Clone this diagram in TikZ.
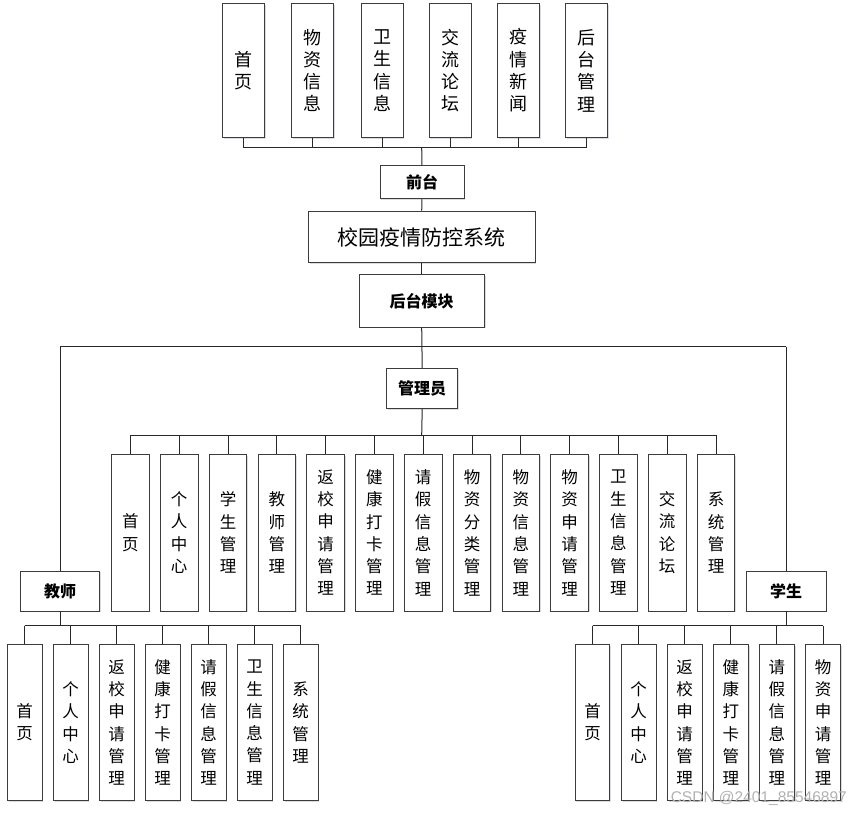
\documentclass[tikz,border=0pt]{standalone}
\usepackage{fontspec}
\setmainfont{Liberation Sans}
\newfontfamily\cjk{Noto Sans CJK SC}
\newfontfamily\wmfont{Liberation Sans}
\usetikzlibrary{shadows}
\definecolor{boxline}{RGB}{60,60,60}
\definecolor{conn}{RGB}{40,40,40}
\tikzset{
  box/.style={draw=boxline, line width=0.9pt, fill=white, inner sep=0pt, align=center,
    drop shadow={shadow xshift=1.3pt, shadow yshift=-1.3pt, fill=blue!15!black!20, opacity=0.7}},
  topbox/.style={box, minimum width=42pt, minimum height=134.4pt, font=\cjk\fontsize{18}{22.3}\selectfont},
  admbox/.style={box, minimum width=37.5pt, minimum height=156.7pt, font=\cjk\fontsize{16.5}{22.3}\selectfont},
  subbox/.style={box, minimum width=34.8pt, minimum height=156.4pt, font=\cjk\fontsize{16.5}{22.3}\selectfont},
  rolebox/.style={box, font=\cjk\bfseries\fontsize{16}{18}\selectfont},
  titlebox/.style={box, font=\cjk\fontsize{21}{24}\selectfont},
  wire/.style={draw=conn, line width=1pt},
}
\begin{document}
\begin{tikzpicture}[x=1pt,y=-1pt]
\useasboundingbox (0,0) rectangle (851,814);
% fixed bus coordinates
\coordinate (topbus) at (421.7,147.7);
\coordinate (mainbus) at (421.7,346.7);
\coordinate (admbus) at (421.7,435);
\coordinate (tbus) at (60,625.7);
\coordinate (sbus) at (786,625.7);

% top (front-end) pages
\foreach \i/\x/\t in {1/243.5/{首\\页},2/312.5/{物\\资\\信\\息},3/382/{卫\\生\\信\\息},4/450/{交\\流\\论\\坛},5/518.3/{疫\\情\\新\\闻},6/586.2/{后\\台\\管\\理}}
  \node[topbox] (t\i) at (\x,70.5) {\t};

\node[rolebox, minimum width=84pt, minimum height=33pt] (qt) at (422,182.3) {前台};
\node[titlebox, minimum width=226.7pt, minimum height=51.7pt] (sys) at (421.7,237) {校园疫情防控系统};
\node[rolebox, minimum width=125.3pt, minimum height=52.3pt] (ht) at (421.7,301) {后台模块};
\node[rolebox, minimum width=71pt, minimum height=40pt] (adm) at (422.2,388.3) {管理员};
\node[rolebox, minimum width=79.4pt, minimum height=40pt] (tea) at (60,591) {教师};
\node[rolebox, minimum width=80pt, minimum height=40pt] (stu) at (786,591) {学生};

% admin pages
\foreach \i/\t in {0/{首\\页},1/{个\\人\\中\\心},2/{学\\生\\管\\理},3/{教\\师\\管\\理},4/{返\\校\\申\\请\\管\\理},5/{健\\康\\打\\卡\\管\\理},6/{请\\假\\信\\息\\管\\理},7/{物\\资\\分\\类\\管\\理},8/{物\\资\\信\\息\\管\\理},9/{物\\资\\申\\请\\管\\理},10/{卫\\生\\信\\息\\管\\理},11/{交\\流\\论\\坛},12/{系\\统\\管\\理}}
  \node[admbox] (a\i) at ({130.4+48.8*\i},532.7) {\t};

% teacher pages
\foreach \i/\t in {0/{首\\页},1/{个\\人\\中\\心},2/{返\\校\\申\\请\\管\\理},3/{健\\康\\打\\卡\\管\\理},4/{请\\假\\信\\息\\管\\理},5/{卫\\生\\信\\息\\管\\理},6/{系\\统\\管\\理}}
  \node[subbox] (c\i) at ({24.7+46*\i},722.5) {\t};

% student pages
\foreach \i/\t in {0/{首\\页},1/{个\\人\\中\\心},2/{返\\校\\申\\请\\管\\理},3/{健\\康\\打\\卡\\管\\理},4/{请\\假\\信\\息\\管\\理},5/{物\\资\\申\\请\\管\\理}}
  \node[subbox] (s\i) at ({592.5+46.1*\i},722.5) {\t};

% connectors: front-end
\foreach \i in {1,...,6}
  \draw[wire] (t\i.south) -- (t\i.south |- topbus);
\draw[wire] (t1.south |- topbus) -- (t6.south |- topbus);
\draw[wire] (qt.north) -- (topbus);
\draw[wire] (qt.south) -- (sys.north);
\draw[wire] (sys.south) -- (ht.north);
\draw[wire] (ht.south) -- (adm.north);
\draw[wire] (tea.north |- mainbus) -- (stu.north |- mainbus);
\draw[wire] (tea.north |- mainbus) -- (tea.north);
\draw[wire] (stu.north |- mainbus) -- (stu.north);

% admin bus
\draw[wire] (adm.south) -- (admbus);
\foreach \i in {0,...,12}
  \draw[wire] (a\i.north |- admbus) -- (a\i.north);
\draw[wire] (a0.north |- admbus) -- (a12.north |- admbus);

% teacher bus
\draw[wire] (tea.south) -- (tbus);
\foreach \i in {0,...,6}
  \draw[wire] (c\i.north |- tbus) -- (c\i.north);
\draw[wire] (c0.north |- tbus) -- (c6.north |- tbus);

% student bus
\draw[wire] (stu.south) -- (sbus);
\foreach \i in {0,...,5}
  \draw[wire] (s\i.north |- sbus) -- (s\i.north);
\draw[wire] (s0.north |- sbus) -- (s5.north |- sbus);

% watermark
\node[anchor=east, text=black!30, inner sep=0pt, font=\wmfont\fontsize{15.5}{16}\selectfont] (wm) at (847,798) {CSDN @2401\_85546897};
\end{tikzpicture}
\end{document}
